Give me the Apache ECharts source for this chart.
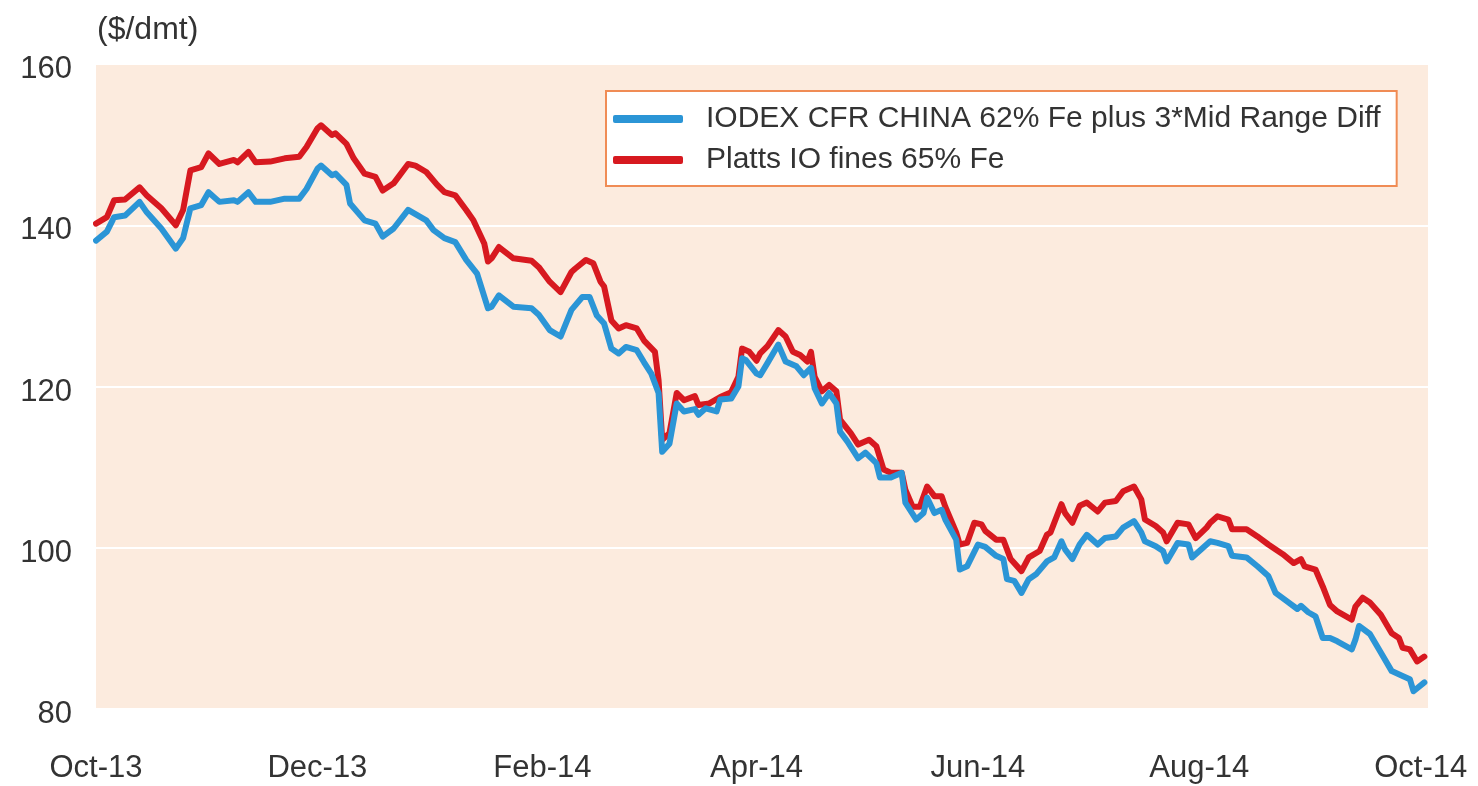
<!DOCTYPE html>
<html>
<head>
<meta charset="utf-8">
<script src="https://cdn.jsdelivr.net/npm/echarts@6/dist/echarts.min.js"></script>
<style>
  html, body { margin: 0; padding: 0; background: #ffffff; }
  #chart { width: 1478px; height: 786px; }
</style>
</head>
<body>
<div id="chart"></div>
<script>
// ---- data ----
const seriesNames = ['IODEX CFR CHINA 62% Fe plus 3*Mid Range Diff', 'Platts IO fines 65% Fe'];
const monthNames = ['Jan','Feb','Mar','Apr','May','Jun','Jul','Aug','Sep','Oct','Nov','Dec'];
const yTicks = [80, 100, 120, 140, 160];
const unitLabel = '($/dmt)';

const iodexDates = [
  '2013-10-01','2013-10-04','2013-10-06','2013-10-09','2013-10-13','2013-10-15','2013-10-19','2013-10-23','2013-10-25','2013-10-27',
  '2013-10-30','2013-11-01','2013-11-04','2013-11-08','2013-11-09','2013-11-12','2013-11-14','2013-11-18','2013-11-22','2013-11-26',
  '2013-11-28','2013-12-01','2013-12-02','2013-12-05','2013-12-06','2013-12-09','2013-12-10','2013-12-14','2013-12-17','2013-12-19',
  '2013-12-22','2013-12-26','2013-12-31','2014-01-02','2014-01-05','2014-01-08','2014-01-11','2014-01-14','2014-01-17','2014-01-18',
  '2014-01-20','2014-01-24','2014-01-29','2014-01-31','2014-02-03','2014-02-06','2014-02-09','2014-02-12','2014-02-14','2014-02-16',
  '2014-02-18','2014-02-20','2014-02-22','2014-02-24','2014-02-27','2014-03-01','2014-03-03','2014-03-05','2014-03-06','2014-03-08',
  '2014-03-10','2014-03-12','2014-03-15','2014-03-16','2014-03-18','2014-03-21','2014-03-22','2014-03-25','2014-03-27','2014-03-28',
  '2014-03-29','2014-04-01','2014-04-02','2014-04-04','2014-04-07','2014-04-09','2014-04-12','2014-04-14','2014-04-16','2014-04-17',
  '2014-04-19','2014-04-21','2014-04-23','2014-04-24','2014-04-26','2014-04-29','2014-05-01','2014-05-04','2014-05-05','2014-05-08',
  '2014-05-11','2014-05-12','2014-05-15','2014-05-17','2014-05-18','2014-05-20','2014-05-22','2014-05-23','2014-05-26','2014-05-27',
  '2014-05-29','2014-06-01','2014-06-03','2014-06-06','2014-06-08','2014-06-09','2014-06-11','2014-06-13','2014-06-15','2014-06-17',
  '2014-06-20','2014-06-22','2014-06-24','2014-06-25','2014-06-27','2014-06-29','2014-07-01','2014-07-04','2014-07-06','2014-07-09',
  '2014-07-11','2014-07-14','2014-07-16','2014-07-17','2014-07-20','2014-07-22','2014-07-23','2014-07-26','2014-07-29','2014-07-30',
  '2014-08-02','2014-08-04','2014-08-06','2014-08-09','2014-08-10','2014-08-14','2014-08-17','2014-08-20','2014-08-22','2014-08-25',
  '2014-08-28','2014-08-29','2014-08-31','2014-09-02','2014-09-04','2014-09-06','2014-09-08','2014-09-12','2014-09-13','2014-09-14',
  '2014-09-17','2014-09-20','2014-09-23','2014-09-26','2014-09-28','2014-09-29','2014-10-02'
];
const iodexValues = [
  138.1,139.2,141.0,141.2,142.9,141.6,139.6,137.1,138.4,142.1,
  142.5,144.1,142.9,143.1,142.9,144.1,142.9,142.9,143.3,143.3,
  144.5,147.0,147.4,146.2,146.4,145.0,142.7,140.6,140.2,138.6,
  139.6,141.9,140.6,139.4,138.4,137.9,135.7,134.0,129.7,129.9,
  131.3,129.9,129.7,128.9,127.0,126.2,129.5,131.1,131.1,128.8,
  127.8,124.7,124.1,124.9,124.5,123.0,121.6,119.2,111.9,112.9,
  117.9,116.9,117.2,116.5,117.3,116.9,118.4,118.5,120.0,123.5,
  123.3,121.6,121.4,122.9,125.2,123.1,122.5,121.4,122.3,119.8,
  117.9,119.2,117.9,114.4,113.2,111.1,111.8,110.5,108.7,108.7,
  109.3,105.6,103.5,104.3,106.2,104.3,104.7,103.5,101.0,97.3,
  97.7,100.4,100.1,99.0,98.6,96.1,95.9,94.4,96.1,96.7,
  98.3,98.8,100.8,99.8,98.6,100.4,101.6,100.4,101.2,101.4,
  102.5,103.3,101.9,100.8,100.2,99.6,98.3,100.6,100.4,98.8,
  100.0,100.8,100.6,100.2,99.0,98.8,97.7,96.5,94.4,93.4,
  92.4,92.8,92.0,91.5,88.8,88.8,88.4,87.4,88.6,90.3,
  89.3,87.0,84.7,84.1,83.7,82.2,83.3
];

const plattsDates = [
  '2013-10-01','2013-10-04','2013-10-06','2013-10-09','2013-10-13','2013-10-15','2013-10-19','2013-10-23','2013-10-25','2013-10-27',
  '2013-10-30','2013-11-01','2013-11-04','2013-11-08','2013-11-09','2013-11-12','2013-11-14','2013-11-18','2013-11-22','2013-11-26',
  '2013-11-28','2013-12-01','2013-12-02','2013-12-05','2013-12-06','2013-12-09','2013-12-11','2013-12-14','2013-12-17','2013-12-19',
  '2013-12-22','2013-12-26','2013-12-28','2013-12-31','2014-01-03','2014-01-05','2014-01-08','2014-01-11','2014-01-13','2014-01-16',
  '2014-01-17','2014-01-18','2014-01-20','2014-01-24','2014-01-29','2014-01-31','2014-02-03','2014-02-06','2014-02-09','2014-02-10',
  '2014-02-13','2014-02-15','2014-02-17','2014-02-18','2014-02-20','2014-02-22','2014-02-24','2014-02-27','2014-03-01','2014-03-04',
  '2014-03-05','2014-03-06','2014-03-08','2014-03-10','2014-03-12','2014-03-15','2014-03-16','2014-03-19','2014-03-22','2014-03-25',
  '2014-03-27','2014-03-28','2014-03-30','2014-04-01','2014-04-02','2014-04-04','2014-04-07','2014-04-09','2014-04-11','2014-04-13',
  '2014-04-15','2014-04-16','2014-04-17','2014-04-19','2014-04-21','2014-04-23','2014-04-24','2014-04-27','2014-04-29','2014-05-02',
  '2014-05-04','2014-05-06','2014-05-08','2014-05-11','2014-05-12','2014-05-14','2014-05-16','2014-05-18','2014-05-20','2014-05-22',
  '2014-05-23','2014-05-26','2014-05-27','2014-05-29','2014-05-31','2014-06-02','2014-06-03','2014-06-06','2014-06-08','2014-06-10',
  '2014-06-13','2014-06-15','2014-06-18','2014-06-20','2014-06-21','2014-06-24','2014-06-25','2014-06-27','2014-06-29','2014-07-01',
  '2014-07-04','2014-07-06','2014-07-09','2014-07-11','2014-07-14','2014-07-16','2014-07-17','2014-07-20','2014-07-22','2014-07-23',
  '2014-07-26','2014-07-29','2014-07-31','2014-08-03','2014-08-04','2014-08-06','2014-08-09','2014-08-10','2014-08-14','2014-08-17',
  '2014-08-20','2014-08-24','2014-08-27','2014-08-29','2014-08-30','2014-09-02','2014-09-04','2014-09-06','2014-09-08','2014-09-12',
  '2014-09-13','2014-09-15','2014-09-17','2014-09-20','2014-09-23','2014-09-25','2014-09-26','2014-09-28','2014-09-30','2014-10-02'
];
const plattsValues = [
  140.2,141.0,143.1,143.2,144.7,143.7,142.1,140.0,141.9,146.8,
  147.2,148.9,147.6,148.1,147.8,149.1,147.8,147.9,148.3,148.5,
  149.7,152.0,152.4,151.2,151.4,150.1,148.3,146.4,146.0,144.3,
  145.2,147.6,147.4,146.6,145.0,144.1,143.7,141.9,140.6,137.7,
  135.5,135.9,137.3,135.9,135.6,134.8,133.0,131.7,134.2,134.6,
  135.7,135.3,133.0,132.4,128.2,127.2,127.6,127.2,125.7,124.3,
  120.8,113.4,114.2,119.2,118.3,118.8,117.7,117.9,118.7,119.3,
  121.2,124.7,124.3,123.2,124.1,125.0,127.0,126.2,124.3,123.9,
  123.1,124.3,121.2,119.4,120.2,119.4,115.9,114.2,112.8,113.4,
  112.6,109.7,109.3,109.3,107.2,105.1,105.1,107.6,106.4,106.4,
  105.1,101.9,100.4,100.6,103.1,102.9,102.1,101.0,101.0,98.6,
  97.1,98.8,99.6,101.6,101.9,105.4,104.3,103.1,105.2,105.6,
  104.5,105.6,105.8,107.0,107.6,106.0,103.5,102.7,101.9,100.8,
  103.1,102.9,101.2,102.5,103.1,103.9,103.5,102.3,102.3,101.4,
  100.4,99.2,98.1,98.6,97.7,97.3,95.2,92.9,92.1,91.1,
  92.7,93.8,93.2,91.7,89.4,88.8,87.6,87.4,85.9,86.5
];

// ---- chart ----
const FONT = '"Liberation Sans", Arial, sans-serif';
const TEXT = '#333333';
const pair = (dates, vals) => dates.map((d, i) => [d, vals[i]]);

const chart = echarts.init(document.getElementById('chart'), null, { renderer: 'canvas' });
chart.setOption({
  animation: false,
  backgroundColor: '#ffffff',
  textStyle: { fontFamily: FONT },
  title: {
    text: unitLabel,
    left: 92, top: 9,
    textStyle: { fontFamily: FONT, fontSize: 32, fontWeight: 'normal', color: TEXT }
  },
  grid: {
    left: 96, right: 50, top: 64, bottom: 77,
    containLabel: false, outerBoundsMode: 'none',
    show: true, backgroundColor: '#FCEBDE', borderWidth: 0
  },
  legend: {
    data: seriesNames,
    orient: 'vertical',
    left: 606, top: 91,
    backgroundColor: '#ffffff',
    borderColor: '#F08C55', borderWidth: 2, borderRadius: 0,
    padding: [13, 16, 11, 7],
    itemWidth: 70, itemHeight: 8, itemGap: 11,
    icon: 'roundRect',
    textStyle: { fontFamily: FONT, fontSize: 30, color: TEXT, padding: [0, 0, 0, 18] }
  },
  xAxis: {
    type: 'time',
    min: '2013-10-01', max: '2014-10-03',
    splitNumber: 12,
    minInterval: 28 * 86400000, maxInterval: 31 * 86400000,
    axisLine: { show: false }, axisTick: { show: false },
    splitLine: { show: false },
    axisLabel: {
      fontFamily: FONT, fontSize: 31, color: TEXT, margin: 44,
      hideOverlap: false,
      formatter: function (value) {
        const d = new Date(value);
        if (d.getDate() !== 1 || d.getMonth() % 2 !== 1) return '';
        return monthNames[d.getMonth()] + '-' + String(d.getFullYear()).slice(2);
      }
    }
  },
  yAxis: {
    type: 'value',
    min: yTicks[0], max: yTicks[yTicks.length - 1], interval: 20,
    axisLine: { show: false }, axisTick: { show: false },
    splitLine: { show: true, lineStyle: { color: '#ffffff', width: 2 } },
    axisLabel: {
      margin: 24, verticalAlign: 'middle',
      formatter: function (v) { return '{n|' + v + '}'; },
      rich: { n: { fontFamily: FONT, fontSize: 31, color: TEXT, padding: [11, 0, 0, 0] } }
    }
  },
  series: [
    {
      name: seriesNames[1], type: 'line', data: pair(plattsDates, plattsValues),
      showSymbol: false, symbol: 'none',
      lineStyle: { color: '#D71920', width: 6, join: 'round', cap: 'round' },
      itemStyle: { color: '#D71920' }
    },
    {
      name: seriesNames[0], type: 'line', data: pair(iodexDates, iodexValues),
      showSymbol: false, symbol: 'none',
      lineStyle: { color: '#2B95D6', width: 6, join: 'round', cap: 'round' },
      itemStyle: { color: '#2B95D6' }
    }
  ]
});
</script>
</body>
</html>
